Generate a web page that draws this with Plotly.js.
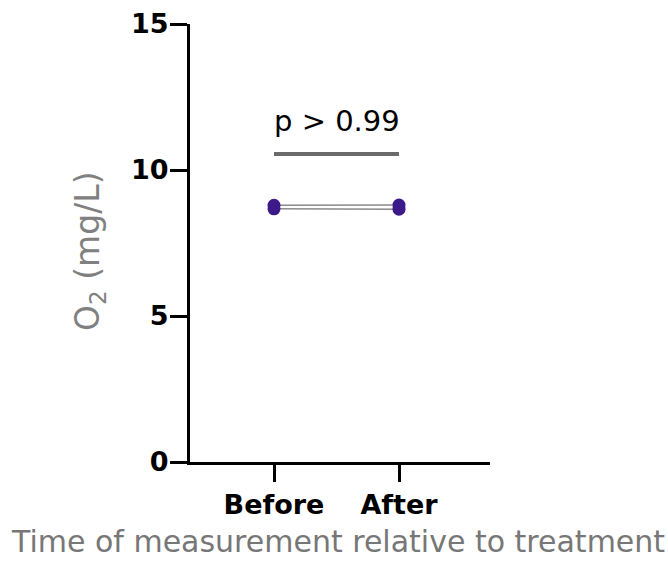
<!DOCTYPE html>
<html>
<head>
<meta charset="utf-8">
<script src="https://cdn.plot.ly/plotly-3.0.1.min.js"></script>
<style>html,body{margin:0;padding:0;background:#fff;}#chart{width:668px;height:563px;}</style>
</head>
<body>
<div id="chart"></div>
<script>
const categories = ["Before", "After"];
const subjectA = [8.79, 8.80];
const subjectB = [8.67, 8.66];
const sigBarY = 10.55;
const pLabel = "p > 0.99";
const yTicks = [0, 5, 10, 15];

const xs = categories.map((c, i) => i);
const FONT = "DejaVu Sans, sans-serif";

const traces = [subjectA, subjectB].map(v => ({
  x: xs, y: v, type: "scatter", mode: "lines+markers",
  line: {color: "#8a8a8a", width: 1.5},
  marker: {color: "#3d1a8a", size: 13},
  showlegend: false, hoverinfo: "skip"
}));
traces.push({
  x: xs, y: [sigBarY, sigBarY], type: "scatter", mode: "lines",
  line: {color: "#6b6b6b", width: 4}, showlegend: false, hoverinfo: "skip"
});

const layout = {
  width: 668, height: 563,
  margin: {l: 190, r: 178, t: 24, b: 101},
  paper_bgcolor: "#fff", plot_bgcolor: "#fff",
  font: {family: FONT},
  xaxis: {
    range: [-0.672, 1.728], tickvals: xs, ticktext: categories,
    showgrid: false, zeroline: false, showline: true, linecolor: "#000", linewidth: 3,
    ticks: "outside", ticklen: 17, tickwidth: 3, tickcolor: "#000",
    tickfont: {family: FONT, size: 27, color: "#000", weight: "bold"},
    automargin: false, fixedrange: true
  },
  yaxis: {
    range: [0, 15], tickvals: yTicks,
    showgrid: false, zeroline: false, showline: true, linecolor: "#000", linewidth: 3,
    ticks: "outside", ticklen: 17, tickwidth: 3, tickcolor: "#000",
    ticklabelstandoff: -4,
    tickfont: {family: FONT, size: 27, color: "#000", weight: "bold"},
    automargin: false, fixedrange: true
  },
  annotations: [
    {
      x: 0.5, y: sigBarY, xref: "x", yref: "y", text: pLabel, showarrow: false,
      yanchor: "bottom", yshift: 14, font: {family: FONT, size: 29, color: "#000"}
    },
    {
      x: -0.3367, y: 0.4817, xref: "paper", yref: "paper", text: "O<sub>2</sub> (mg/L)",
      textangle: -90, showarrow: false, xanchor: "center", yanchor: "middle",
      font: {family: FONT, size: 33, color: "#808080"}
    },
    {
      x: 0.4917, y: (462 - 541) / 438, xref: "paper", yref: "paper",
      text: "Time of measurement relative to treatment",
      showarrow: false, xanchor: "center", yanchor: "middle",
      font: {family: FONT, size: 30, color: "#777"}
    }
  ]
};

Plotly.newPlot("chart", traces, layout, {displayModeBar: false, staticPlot: true});
</script>
</body>
</html>
